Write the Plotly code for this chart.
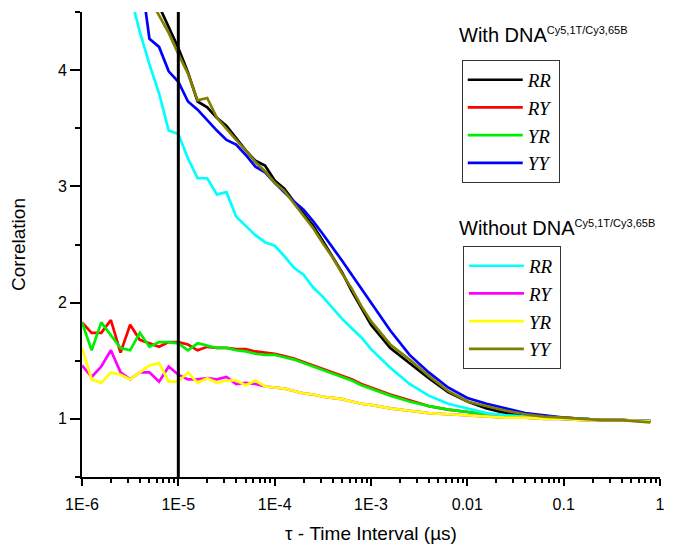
import plotly.graph_objects as go

# correlation curves on a common lag grid (tau in microseconds)
tau = [1.0e-6, 1.259e-6, 1.585e-6, 1.995e-6, 2.512e-6, 3.162e-6, 3.981e-6, 5.012e-6, 6.310e-6, 7.943e-6,
       1.0e-5, 1.259e-5, 1.585e-5, 1.995e-5, 2.512e-5, 3.162e-5, 3.981e-5, 5.012e-5, 6.310e-5, 7.943e-5,
       1.0e-4, 1.259e-4, 1.585e-4, 1.995e-4, 2.512e-4, 3.162e-4, 3.981e-4, 5.012e-4, 6.310e-4, 7.943e-4,
       1.0e-3, 1.585e-3, 2.512e-3, 3.981e-3, 6.310e-3,
       1.0e-2, 1.585e-2, 2.512e-2, 3.981e-2, 6.310e-2,
       0.1, 0.1585, 0.2512, 0.3981, 0.6310, 0.7943]

# with DNA
with_rr = [8.2, 7.6, 7.0, 6.5, 6.0, 5.6, 5.2, 4.85, 4.55, 4.37,
           4.19, 3.98, 3.73, 3.68, 3.59, 3.52, 3.41, 3.31, 3.22, 3.18,
           3.05, 2.98, 2.87, 2.77, 2.66, 2.53, 2.40, 2.26, 2.10, 1.95,
           1.81, 1.61, 1.48, 1.35, 1.23,
           1.15, 1.09, 1.05, 1.03, 1.02,
           1.01, 1.00, 0.99, 0.99, 0.98, 0.98]
with_ry = [1.83, 1.74, 1.74, 1.85, 1.57, 1.81, 1.68, 1.65, 1.62, 1.66,
           1.66, 1.64, 1.59, 1.62, 1.61, 1.61, 1.60, 1.60, 1.58, 1.57,
           1.56, 1.54, 1.52, 1.49, 1.46, 1.43, 1.40, 1.37, 1.34, 1.30,
           1.27, 1.21, 1.16, 1.11, 1.08,
           1.06, 1.04, 1.03, 1.02, 1.01,
           1.00, 1.00, 0.99, 0.99, 0.98, 0.98]
with_yr = [1.83, 1.59, 1.83, 1.72, 1.61, 1.59, 1.74, 1.62, 1.66, 1.66,
           1.65, 1.59, 1.65, 1.63, 1.61, 1.61, 1.59, 1.58, 1.56, 1.55,
           1.55, 1.53, 1.51, 1.48, 1.45, 1.42, 1.39, 1.36, 1.33, 1.29,
           1.26, 1.20, 1.15, 1.11, 1.08,
           1.06, 1.04, 1.03, 1.02, 1.01,
           1.00, 1.00, 0.99, 0.99, 0.98, 0.98]
with_yy = [9.0, 8.2, 7.5, 6.8, 6.1, 5.5, 4.9, 4.27, 4.20, 3.99,
           3.90, 3.73, 3.66, 3.57, 3.48, 3.40, 3.36, 3.27, 3.17, 3.12,
           3.03, 2.95, 2.87, 2.80, 2.70, 2.59, 2.48, 2.36, 2.24, 2.12,
           2.01, 1.76, 1.55, 1.40, 1.27,
           1.18, 1.13, 1.09, 1.05, 1.03,
           1.01, 1.00, 0.99, 0.99, 0.98, 0.98]

# without DNA
wo_rr = [7.2, 6.5, 5.9, 5.4, 5.0, 4.65, 4.33, 4.05, 3.80, 3.48,
         3.45, 3.24, 3.07, 3.07, 2.93, 2.95, 2.74, 2.66, 2.58, 2.52,
         2.49, 2.40, 2.30, 2.24, 2.13, 2.05, 1.95, 1.86, 1.78, 1.70,
         1.60, 1.44, 1.30, 1.20, 1.13,
         1.09, 1.05, 1.03, 1.02, 1.01,
         1.00, 1.00, 0.99, 0.99, 0.98, 0.98]
wo_ry = [1.46, 1.36, 1.45, 1.59, 1.40, 1.34, 1.40, 1.40, 1.32, 1.45,
         1.38, 1.34, 1.34, 1.35, 1.34, 1.36, 1.30, 1.31, 1.30, 1.28,
         1.27, 1.26, 1.24, 1.22, 1.21, 1.19, 1.18, 1.17, 1.15, 1.13,
         1.12, 1.09, 1.07, 1.05, 1.04,
         1.03, 1.02, 1.01, 1.01, 1.00,
         1.00, 0.99, 0.99, 0.99, 0.98, 0.98]
wo_yr = [1.61, 1.34, 1.31, 1.40, 1.38, 1.34, 1.40, 1.46, 1.48, 1.32,
         1.32, 1.40, 1.31, 1.35, 1.31, 1.33, 1.33, 1.29, 1.33, 1.28,
         1.27, 1.26, 1.24, 1.22, 1.21, 1.19, 1.18, 1.17, 1.15, 1.13,
         1.12, 1.09, 1.07, 1.05, 1.04,
         1.03, 1.02, 1.01, 1.01, 1.00,
         1.00, 0.99, 0.99, 0.99, 0.98, 0.98]
wo_yy = [7.8, 7.2, 6.6, 6.0, 5.5, 5.1, 4.8, 4.62, 4.47, 4.32,
         4.14, 3.97, 3.74, 3.76, 3.59, 3.49, 3.40, 3.31, 3.21, 3.13,
         3.03, 2.96, 2.85, 2.74, 2.64, 2.51, 2.39, 2.25, 2.12, 1.97,
         1.84, 1.64, 1.51, 1.37, 1.24,
         1.15, 1.11, 1.07, 1.04, 1.02,
         1.01, 1.00, 0.99, 0.99, 0.98, 0.97]

series = [
    ("RR", with_rr, "black", "legend"),
    ("RY", with_ry, "#ff0000", "legend"),
    ("YR", with_yr, "#00ee00", "legend"),
    ("YY", with_yy, "#0000ff", "legend"),
    ("RR", wo_rr, "#00ffff", "legend2"),
    ("RY", wo_ry, "#ff00ff", "legend2"),
    ("YR", wo_yr, "#ffff00", "legend2"),
    ("YY", wo_yy, "#808000", "legend2"),
]

fig = go.Figure()
for name, vals, color, leg in series:
    fig.add_trace(go.Scatter(x=tau, y=vals, mode="lines", name=name, legend=leg,
                             line=dict(color=color, width=2.7)))

# marker line at 1E-5
fig.add_shape(type="line", x0=1e-5, x1=1e-5, y0=0, y1=1, xref="x", yref="paper",
              line=dict(color="black", width=3))

legend_style = dict(
    xref="paper", yref="paper", xanchor="left", yanchor="top",
    bgcolor="white", bordercolor="#333333", borderwidth=1,
    font=dict(family="Liberation Serif", size=19, color="black", style="italic"),
    itemwidth=55, tracegroupgap=0,
)

fig.update_layout(
    width=683, height=546,
    margin=dict(l=74, r=31, t=4, b=77),
    plot_bgcolor="white", paper_bgcolor="white",
    font=dict(family="Liberation Sans", size=16, color="black"),
    showlegend=True,
    legend=dict(x=0.657, y=0.897, **legend_style),
    legend2=dict(x=0.659, y=0.497, **legend_style),
    xaxis=dict(
        type="log", range=[-6, 0],
        tickvals=[1e-6, 1e-5, 1e-4, 1e-3, 1e-2, 1e-1, 1],
        ticktext=["1E-6", "1E-5", "1E-4", "1E-3", "0.01", "0.1", "1"],
        ticks="outside", ticklen=7, tickwidth=1.5, tickcolor="black",
        minor=dict(ticks="outside", ticklen=4, tickwidth=1.5, tickcolor="black", dtick="D1"),
        showline=True, linecolor="black", linewidth=2, showgrid=False, zeroline=False,
        ticklabelstandoff=5,
        title=dict(text="τ - Time Interval (µs)", font=dict(size=19), standoff=14),
    ),
    yaxis=dict(
        range=[0.5, 4.5], tickvals=[1, 2, 3, 4],
        ticks="outside", ticklen=10, tickwidth=1.5, tickcolor="black",
        minor=dict(ticks="outside", ticklen=5, tickwidth=1.5, tickcolor="black",
                   tickvals=[0.5, 1.5, 2.5, 3.5, 4.5]),
        showline=True, linecolor="black", linewidth=2, showgrid=False, zeroline=False,
        title=dict(text="Correlation", font=dict(size=19), standoff=28),
    ),
)

sup = '<sup><span style="font-size:11px">Cy5,1T/Cy3,65B</span></sup>'
fig.add_annotation(text="With DNA" + sup, xref="paper", yref="paper", x=0.649, y=0.95,
                   xanchor="left", yanchor="middle", showarrow=False, font=dict(size=20))
fig.add_annotation(text="Without DNA" + sup, xref="paper", yref="paper", x=0.649, y=0.535,
                   xanchor="left", yanchor="middle", showarrow=False, font=dict(size=20))

fig.write_html("out.html")
